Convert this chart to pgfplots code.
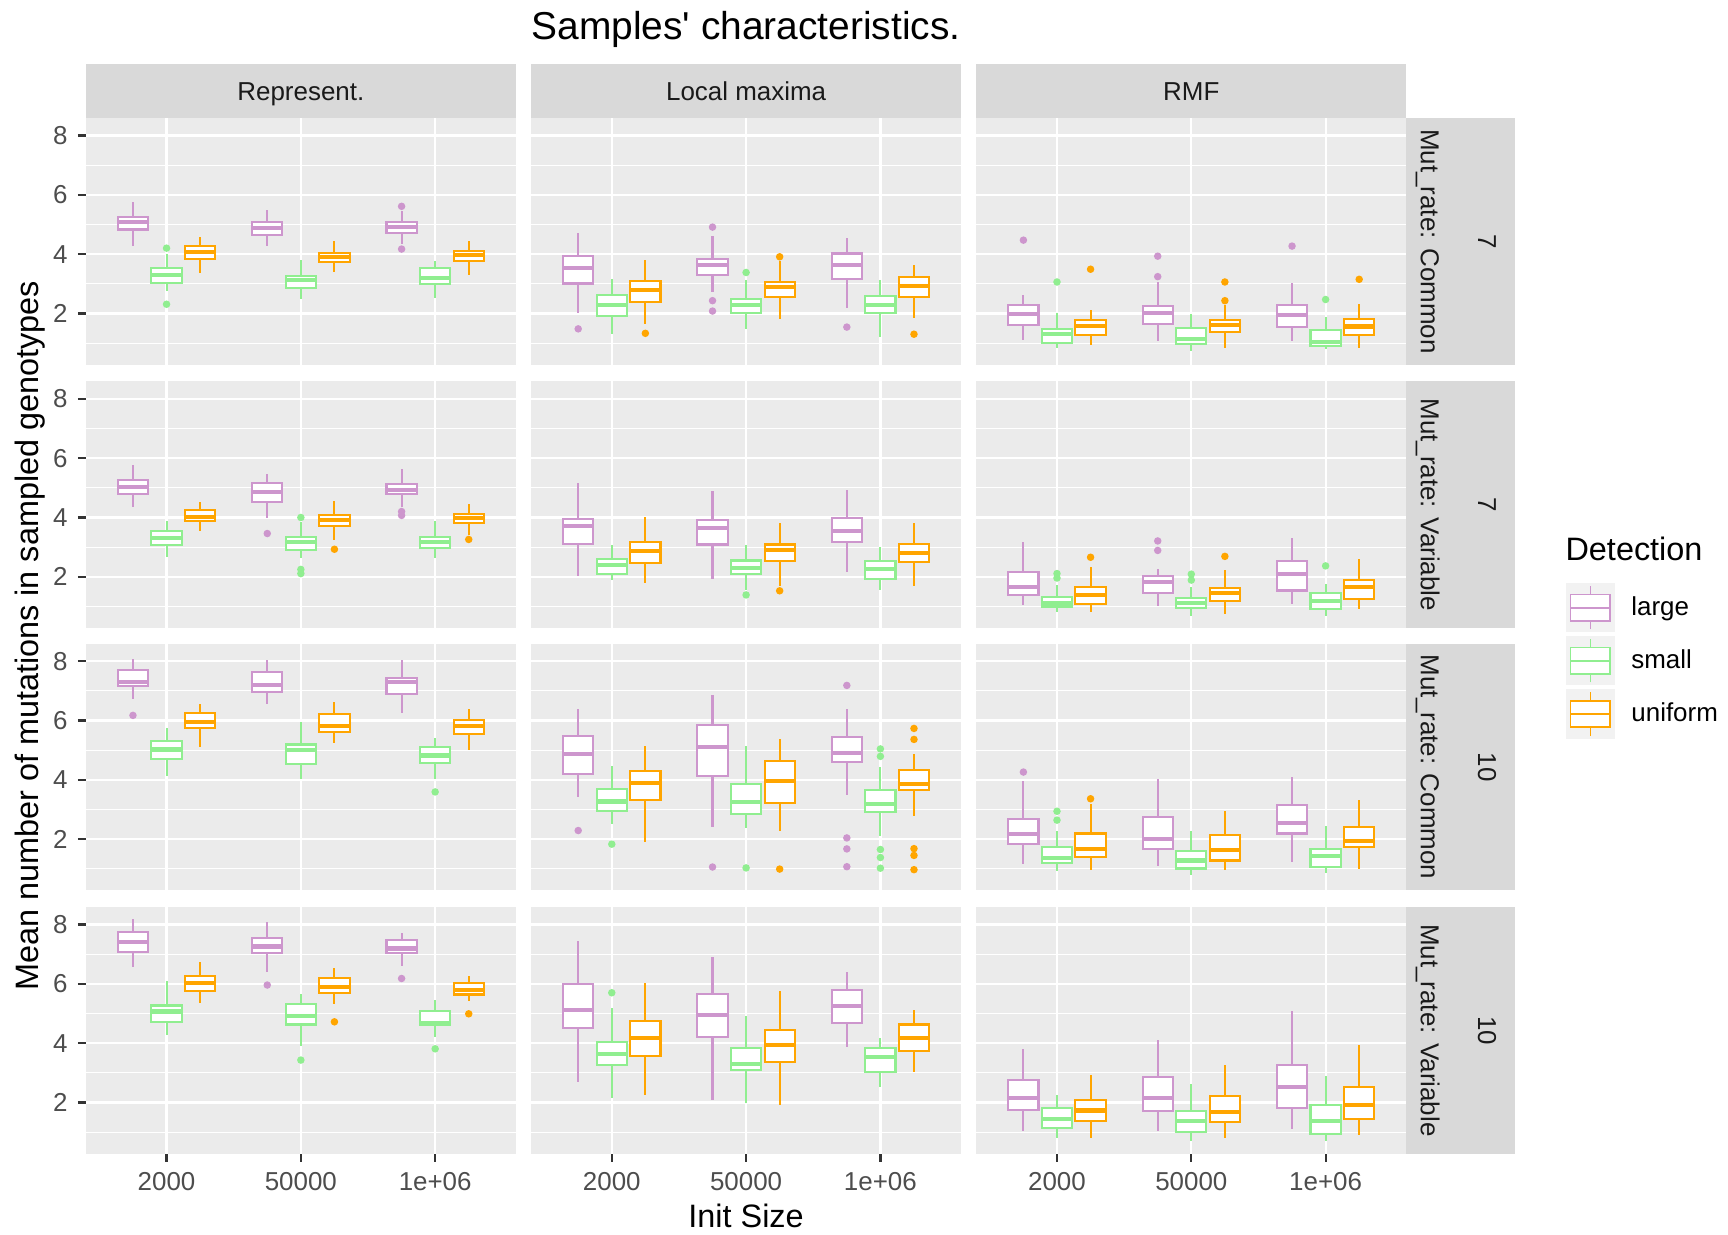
\documentclass[border=0pt]{standalone}
\usepackage{fontspec}
\setmainfont{Liberation Sans}
\usepackage{pgfplots}
\pgfplotsset{compat=1.18}
\usepgfplotslibrary{statistics}
\definecolor{cL}{HTML}{CD96CD}
\definecolor{cS}{HTML}{90EE90}
\definecolor{cU}{HTML}{FFA500}
\definecolor{ggpanel}{HTML}{EBEBEB}
\definecolor{ggstrip}{HTML}{D9D9D9}
\definecolor{ggkey}{HTML}{F2F2F2}
\definecolor{ggtext}{HTML}{4D4D4D}
\definecolor{ggtick}{HTML}{333333}
\definecolor{ggstriptext}{HTML}{1A1A1A}
\pgfplotsset{
  panel/.style={
    scale only axis, width=145.86pt, height=83.78pt, anchor=south west,
    xmin=0.4, xmax=3.6, ymin=0.27, ymax=8.59,
    xtick={1,2,3}, ytick={2,4,6,8}, minor ytick={1,3,5,7},
    xticklabels={2000,50000,1e+06},
    grid=both,
    major grid style={white, line width=0.75pt},
    minor grid style={white, line width=0.37pt},
    axis background/.style={fill=ggpanel},
    axis line style={draw=none},
    tick align=outside, tick pos=left,
    major tick length=2.75pt, minor tick length=0pt,
    tick style={ggtick, line width=0.75pt},
    ticklabel style={font=\fontsize{8.8}{10}\selectfont, text=ggtext},
    /pgf/number format/assume math mode=true,
  },
  noy/.style={yticklabels={{},{},{},{}}, ytick style={draw=none}},
  nox/.style={xticklabels={{},{},{}}, xtick style={draw=none}},
  bxp/.style={
    forget plot, draw=#1, line width=0.7pt, solid,
    mark=*, mark size=0.9pt, mark options={draw=none, fill=#1},
    boxplot/draw direction=y,
    boxplot/box extend=0.225,
    boxplot/whisker extend=0,
    boxplot/every box/.style={draw=#1, fill=white, line width=0.7pt},
    boxplot/every median/.style={draw=#1, line width=1.4pt},
    boxplot/every whisker/.style={draw=#1, line width=0.7pt},
  },
  keyimg/.style={legend image code/.code={
    \fill[ggkey] (0pt,-8.15pt) rectangle (16.3pt,8.15pt);
    \draw[#1,line width=0.6pt] (8.15pt,-7.33pt) -- (8.15pt,7.33pt);
    \draw[#1,line width=0.6pt,fill=white] (1.3pt,-4.5pt) rectangle (14.7pt,4.5pt);
    \draw[#1,line width=0.6pt] (1.3pt,0pt) -- (14.7pt,0pt);
  }},
}
\newcommand\BX[8]{\addplot[bxp=#1, boxplot prepared={draw position=#2, lower whisker=#3, lower quartile=#4, median=#5, upper quartile=#6, upper whisker=#7}] coordinates {#8};}
\begin{document}
\begin{tikzpicture}
\useasboundingbox (0,0) rectangle (586.43pt,418.88pt);
% ---------------- Row 1: Mut_rate Common, 7
\begin{axis}[panel, nox, at={(29.17pt,295.09pt)}]
\BX{cL}{0.75}{4.27}{4.83}{5.08}{5.26}{5.75}{}
\BX{cS}{1.00}{2.76}{3.04}{3.31}{3.52}{3.99}{(0,4.20)(0,2.31)}
\BX{cU}{1.25}{3.37}{3.83}{4.07}{4.28}{4.56}{}
\BX{cL}{1.75}{4.26}{4.64}{4.87}{5.07}{5.49}{}
\BX{cS}{2.00}{2.47}{2.85}{3.13}{3.27}{3.81}{}
\BX{cU}{2.25}{3.40}{3.72}{3.90}{4.04}{4.45}{}
\BX{cL}{2.75}{4.35}{4.72}{4.90}{5.07}{5.44}{(0,5.61)(0,4.17)}
\BX{cS}{3.00}{2.53}{2.99}{3.19}{3.52}{3.76}{}
\BX{cU}{3.25}{3.29}{3.76}{3.97}{4.12}{4.43}{}
\end{axis}
\begin{axis}[panel, nox, noy, at={(180.27pt,295.09pt)}]
\BX{cL}{0.75}{2.03}{3.01}{3.52}{3.93}{4.70}{(0,1.48)}
\BX{cS}{1.00}{1.31}{1.92}{2.29}{2.63}{3.15}{}
\BX{cU}{1.25}{1.66}{2.38}{2.80}{3.09}{3.79}{(0,1.33)}
\BX{cL}{1.75}{2.71}{3.30}{3.62}{3.84}{4.61}{(0,4.91)(0,2.43)(0,2.08)}
\BX{cS}{2.00}{1.48}{2.02}{2.27}{2.48}{3.13}{(0,3.38)}
\BX{cU}{2.25}{1.80}{2.54}{2.89}{3.07}{3.76}{(0,3.91)}
\BX{cL}{2.75}{2.20}{3.17}{3.62}{4.02}{4.54}{(0,1.54)}
\BX{cS}{3.00}{1.21}{2.01}{2.27}{2.60}{3.13}{}
\BX{cU}{3.25}{1.83}{2.55}{2.93}{3.24}{3.64}{(0,1.30)}
\end{axis}
\begin{axis}[panel, nox, noy, at={(331.36pt,295.09pt)}]
\BX{cL}{0.75}{1.11}{1.61}{1.98}{2.29}{2.62}{(0,4.47)}
\BX{cS}{1.00}{0.85}{1.01}{1.31}{1.46}{2.02}{(0,3.06)}
\BX{cU}{1.25}{0.93}{1.27}{1.57}{1.78}{2.10}{(0,3.49)}
\BX{cL}{1.75}{1.08}{1.64}{2.01}{2.26}{3.07}{(0,3.93)(0,3.24)}
\BX{cS}{2.00}{0.73}{0.96}{1.15}{1.51}{1.97}{}
\BX{cU}{2.25}{0.84}{1.37}{1.60}{1.79}{2.28}{(0,3.06)(0,2.43)}
\BX{cL}{2.75}{1.06}{1.54}{1.96}{2.29}{3.04}{(0,4.27)}
\BX{cS}{3.00}{0.79}{0.91}{1.03}{1.44}{1.89}{(0,2.47)}
\BX{cU}{3.25}{0.84}{1.27}{1.56}{1.81}{2.31}{(0,3.15)}
\end{axis}
% ---------------- Row 2: Mut_rate Variable, 7
\begin{axis}[panel, nox, at={(29.17pt,205.70pt)}]
\BX{cL}{0.75}{4.37}{4.79}{5.02}{5.25}{5.78}{}
\BX{cS}{1.00}{2.66}{3.08}{3.30}{3.56}{3.89}{}
\BX{cU}{1.25}{3.54}{3.87}{4.03}{4.24}{4.52}{}
\BX{cL}{1.75}{3.97}{4.52}{4.87}{5.17}{5.46}{(0,3.46)}
\BX{cS}{2.00}{2.64}{2.89}{3.18}{3.34}{3.84}{(0,4.00)(0,2.25)(0,2.11)}
\BX{cU}{2.25}{3.24}{3.70}{3.91}{4.10}{4.55}{(0,2.93)}
\BX{cL}{2.75}{4.37}{4.78}{4.93}{5.13}{5.62}{(0,4.20)(0,4.07)}
\BX{cS}{3.00}{2.64}{2.97}{3.18}{3.35}{3.89}{}
\BX{cU}{3.25}{3.42}{3.80}{3.97}{4.13}{4.45}{(0,3.26)}
\end{axis}
\begin{axis}[panel, nox, noy, at={(180.27pt,205.70pt)}]
\BX{cL}{0.75}{2.03}{3.11}{3.71}{3.96}{5.17}{}
\BX{cS}{1.00}{1.89}{2.11}{2.39}{2.61}{3.07}{}
\BX{cU}{1.25}{1.78}{2.47}{2.88}{3.16}{4.01}{}
\BX{cL}{1.75}{1.93}{3.09}{3.66}{3.90}{4.90}{}
\BX{cS}{2.00}{1.55}{2.10}{2.30}{2.55}{3.07}{(0,1.39)}
\BX{cU}{2.25}{1.70}{2.52}{2.89}{3.09}{3.83}{(0,1.53)}
\BX{cL}{2.75}{2.15}{3.19}{3.55}{3.97}{4.94}{}
\BX{cS}{3.00}{1.55}{1.94}{2.25}{2.52}{3.02}{}
\BX{cU}{3.25}{1.69}{2.51}{2.81}{3.12}{3.81}{}
\end{axis}
\begin{axis}[panel, nox, noy, at={(331.36pt,205.70pt)},
  legend style={at={(1.3718,0.1821)}, anchor=north west, draw=none, fill=none,
    inner sep=0pt, outer sep=0pt, row sep=1.3pt, column sep=5.5pt,
    font=\fontsize{8.8}{10}\selectfont, nodes={inner sep=0pt}},
  legend cell align=left]
\BX{cL}{0.75}{1.06}{1.38}{1.67}{2.17}{3.19}{}
\BX{cS}{1.00}{0.80}{0.97}{1.10}{1.33}{1.72}{(0,2.11)(0,1.96)}
\BX{cU}{1.25}{0.82}{1.09}{1.38}{1.67}{2.33}{(0,2.66)}
\BX{cL}{1.75}{1.01}{1.46}{1.84}{2.02}{2.25}{(0,3.21)(0,2.89)}
\BX{cS}{2.00}{0.67}{0.94}{1.13}{1.28}{1.67}{(0,2.09)(0,1.89)}
\BX{cU}{2.25}{0.76}{1.19}{1.47}{1.63}{2.22}{(0,2.69)}
\BX{cL}{2.75}{1.10}{1.54}{2.11}{2.53}{3.30}{}
\BX{cS}{3.00}{0.67}{0.91}{1.19}{1.45}{1.75}{(0,2.37)}
\BX{cU}{3.25}{0.91}{1.24}{1.67}{1.89}{2.61}{}
\addlegendimage{keyimg=cL}\addlegendentry{large}
\addlegendimage{keyimg=cS}\addlegendentry{small}
\addlegendimage{keyimg=cU}\addlegendentry{uniform}
\end{axis}
% ---------------- Row 3: Mut_rate Common, 10
\begin{axis}[panel, nox, at={(29.17pt,116.69pt)}]
\BX{cL}{0.75}{6.73}{7.15}{7.31}{7.71}{8.08}{(0,6.17)}
\BX{cS}{1.00}{4.13}{4.70}{5.02}{5.32}{5.76}{}
\BX{cU}{1.25}{5.11}{5.73}{5.96}{6.25}{6.54}{}
\BX{cL}{1.75}{6.56}{6.95}{7.20}{7.64}{8.03}{}
\BX{cS}{2.00}{4.01}{4.53}{5.00}{5.19}{5.95}{}
\BX{cU}{2.25}{5.25}{5.60}{5.82}{6.22}{6.62}{}
\BX{cL}{2.75}{6.25}{6.88}{7.29}{7.44}{8.03}{}
\BX{cS}{3.00}{4.04}{4.55}{4.82}{5.12}{5.42}{(0,3.59)}
\BX{cU}{3.25}{5.00}{5.54}{5.82}{6.01}{6.40}{}
\end{axis}
\begin{axis}[panel, nox, noy, at={(180.27pt,116.69pt)}]
\BX{cL}{0.75}{3.43}{4.19}{4.88}{5.48}{6.40}{(0,2.29)}
\BX{cS}{1.00}{2.52}{2.95}{3.27}{3.69}{4.48}{(0,1.83)}
\BX{cU}{1.25}{1.90}{3.31}{3.88}{4.31}{5.13}{}
\BX{cL}{1.75}{2.42}{4.12}{5.10}{5.85}{6.85}{(0,1.06)}
\BX{cS}{2.00}{2.37}{2.85}{3.24}{3.85}{5.13}{(0,1.03)}
\BX{cU}{2.25}{2.29}{3.21}{3.96}{4.63}{5.39}{(0,0.99)}
\BX{cL}{2.75}{3.50}{4.60}{4.89}{5.45}{6.40}{(0,7.18)(0,2.04)(0,1.67)(0,1.07)}
\BX{cS}{3.00}{2.12}{2.92}{3.18}{3.66}{4.42}{(0,5.04)(0,4.79)(0,1.65)(0,1.38)(0,1.02)}
\BX{cU}{3.25}{2.79}{3.64}{3.87}{4.33}{4.88}{(0,5.73)(0,5.36)(0,1.68)(0,1.45)(0,0.97)}
\end{axis}
\begin{axis}[panel, nox, noy, at={(331.36pt,116.69pt)}]
\BX{cL}{0.75}{1.15}{1.82}{2.17}{2.68}{3.97}{(0,4.26)}
\BX{cS}{1.00}{0.92}{1.20}{1.35}{1.75}{2.27}{(0,2.94)(0,2.64)}
\BX{cU}{1.25}{0.97}{1.40}{1.67}{2.19}{3.18}{(0,3.36)}
\BX{cL}{1.75}{1.08}{1.67}{2.01}{2.75}{4.01}{}
\BX{cS}{2.00}{0.79}{1.01}{1.28}{1.59}{2.27}{}
\BX{cU}{2.25}{0.96}{1.28}{1.62}{2.14}{2.94}{}
\BX{cL}{2.75}{1.24}{2.19}{2.55}{3.16}{4.08}{}
\BX{cS}{3.00}{0.86}{1.05}{1.44}{1.67}{2.45}{}
\BX{cU}{3.25}{0.99}{1.73}{1.94}{2.41}{3.32}{}
\end{axis}
% ---------------- Row 4: Mut_rate Variable, 10
\begin{axis}[panel, at={(29.17pt,27.30pt)}]
\BX{cL}{0.75}{6.56}{7.08}{7.42}{7.76}{8.20}{}
\BX{cS}{1.00}{4.27}{4.70}{5.07}{5.27}{6.09}{}
\BX{cU}{1.25}{5.35}{5.75}{6.03}{6.26}{6.75}{}
\BX{cL}{1.75}{6.39}{7.03}{7.26}{7.54}{8.10}{(0,5.96)}
\BX{cS}{2.00}{3.91}{4.63}{4.92}{5.31}{5.67}{(0,3.43)}
\BX{cU}{2.25}{5.31}{5.69}{5.89}{6.21}{6.53}{(0,4.72)}
\BX{cL}{2.75}{6.61}{7.03}{7.19}{7.48}{7.73}{(0,6.18)}
\BX{cS}{3.00}{4.20}{4.60}{4.67}{5.07}{5.44}{(0,3.81)}
\BX{cU}{3.25}{5.42}{5.64}{5.79}{6.02}{6.26}{(0,4.99)}
\end{axis}
\begin{axis}[panel, noy, at={(180.27pt,27.30pt)}]
\BX{cL}{0.75}{2.69}{4.52}{5.13}{5.99}{7.45}{}
\BX{cS}{1.00}{2.15}{3.26}{3.64}{4.04}{5.17}{(0,5.70)}
\BX{cU}{1.25}{2.24}{3.58}{4.17}{4.76}{6.04}{}
\BX{cL}{1.75}{2.10}{4.20}{4.96}{5.66}{6.89}{}
\BX{cS}{2.00}{2.00}{3.09}{3.31}{3.85}{4.92}{}
\BX{cU}{2.25}{1.91}{3.37}{3.94}{4.45}{5.76}{}
\BX{cL}{2.75}{3.87}{4.67}{5.24}{5.78}{6.40}{}
\BX{cS}{3.00}{2.52}{3.02}{3.54}{3.84}{4.17}{}
\BX{cU}{3.25}{3.03}{3.74}{4.17}{4.63}{5.12}{}
\end{axis}
\begin{axis}[panel, noy, at={(331.36pt,27.30pt)}]
\BX{cL}{0.75}{1.03}{1.76}{2.16}{2.75}{3.80}{}
\BX{cS}{1.00}{0.80}{1.13}{1.44}{1.80}{2.26}{}
\BX{cU}{1.25}{0.79}{1.38}{1.73}{2.10}{2.94}{}
\BX{cL}{1.75}{1.03}{1.70}{2.16}{2.85}{4.11}{}
\BX{cS}{2.00}{0.71}{1.00}{1.38}{1.71}{2.63}{}
\BX{cU}{2.25}{0.80}{1.34}{1.69}{2.21}{3.25}{}
\BX{cL}{2.75}{1.12}{1.81}{2.51}{3.28}{5.07}{}
\BX{cS}{3.00}{0.71}{0.94}{1.37}{1.91}{2.88}{}
\BX{cU}{3.25}{0.90}{1.46}{1.92}{2.51}{3.93}{}
\end{axis}
% ---------------- strips and titles
\begin{scope}[every node/.style={inner sep=0pt, text=ggstriptext, font=\fontsize{8.8}{10}\selectfont}]
\fill[ggstrip] (29.17pt,378.86pt) rectangle (175.03pt,397.19pt);
\fill[ggstrip] (180.27pt,378.86pt) rectangle (326.13pt,397.19pt);
\fill[ggstrip] (331.36pt,378.86pt) rectangle (477.22pt,397.19pt);
\node[anchor=base] at (102.10pt,384.9pt) {Represent.};
\node[anchor=base] at (253.20pt,384.9pt) {Local maxima};
\node[anchor=base] at (404.29pt,384.9pt) {RMF};
\foreach \yb/\ml/\nv in {295.09/Common/7, 205.70/Variable/7, 116.69/Common/10, 27.30/Variable/10}{
  \fill[ggstrip] (477.22pt,\yb pt) rectangle (514.0pt,\yb pt+83.78pt);
  \node[rotate=-90, anchor=base] at (482.2pt,\yb pt+41.89pt) {Mut\_rate: \ml};
  \node[rotate=-90, anchor=base] at (501.6pt,\yb pt+41.89pt) {\nv};
}
\end{scope}
\node[inner sep=0pt, anchor=base, font=\fontsize{13.2}{15}\selectfont] at (253.2pt,405.5pt) {Samples\textquotesingle\ characteristics.};
\node[inner sep=0pt, font=\fontsize{11}{13}\selectfont] at (253.2pt,6.4pt) {Init Size};
\node[inner sep=0pt, rotate=90, font=\fontsize{11}{13}\selectfont] at (10.1pt,203.1pt) {Mean number of mutations in sampled genotypes};
\node[inner sep=0pt, anchor=west, font=\fontsize{11}{13}\selectfont] at (531.1pt,232.6pt) {Detection};
\end{tikzpicture}
\end{document}
